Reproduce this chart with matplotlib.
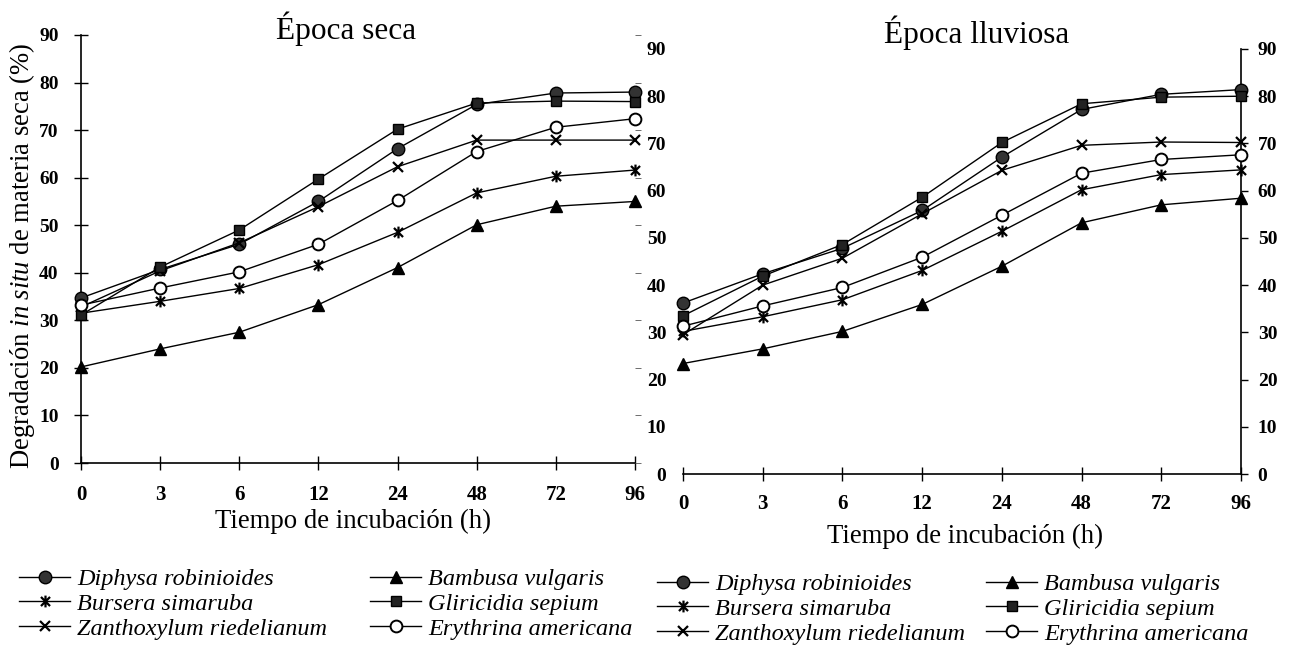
import matplotlib
matplotlib.use("Agg")
import matplotlib.pyplot as plt
from matplotlib.path import Path
from matplotlib.lines import Line2D

plt.rcParams["font.family"] = "Liberation Serif"
plt.rcParams["mathtext.fontset"] = "custom"
plt.rcParams["mathtext.rm"] = "Liberation Serif"
plt.rcParams["mathtext.it"] = "Liberation Serif:italic"

# tiempos de incubacion (h), espaciados como categorias
horas = ["0", "3", "6", "12", "24", "48", "72", "96"]

# epoca seca
seca_diphysa = [34.7, 40.7, 46.0, 55.0, 66.1, 75.4, 77.8, 78.0]
seca_bursera = [31.5, 34.0, 36.7, 41.7, 48.5, 56.8, 60.3, 61.6]
seca_zanthoxylum = [32.8, 40.4, 46.3, 53.9, 62.3, 67.9, 67.9, 67.9]
seca_bambusa = [20.2, 24.0, 27.5, 33.3, 41.1, 50.1, 54.0, 55.0]
seca_gliricidia = [31.1, 41.2, 49.0, 59.7, 70.2, 75.7, 76.1, 76.0]
seca_erythrina = [33.2, 36.8, 40.2, 46.0, 55.2, 65.5, 70.6, 72.4]

# epoca lluviosa
lluv_diphysa = [36.2, 42.4, 47.8, 55.8, 67.1, 77.2, 80.4, 81.4]
lluv_bursera = [30.2, 33.3, 36.9, 43.1, 51.4, 60.2, 63.4, 64.4]
lluv_zanthoxylum = [29.5, 40.0, 45.7, 55.1, 64.3, 69.6, 70.3, 70.2]
lluv_bambusa = [23.4, 26.5, 30.2, 35.9, 44.0, 53.2, 57.0, 58.4]
lluv_gliricidia = [33.5, 41.9, 48.6, 58.6, 70.2, 78.4, 79.8, 80.0]
lluv_erythrina = [31.3, 35.6, 39.5, 45.9, 54.8, 63.7, 66.6, 67.6]

especies = ["Diphysa robinioides", "Bursera simaruba", "Zanthoxylum riedelianum",
            "Bambusa vulgaris", "Gliricidia sepium", "Erythrina americana"]

# asterisco tipo Excel: una X con barra vertical
estrella = Path([(-1, -1), (1, 1), (-1, 1), (1, -1), (0, -1.3), (0, 1.3)],
                [Path.MOVETO, Path.LINETO, Path.MOVETO, Path.LINETO, Path.MOVETO, Path.LINETO])

estilos = [
    dict(marker="o", ms=9, mfc="#333333", mec="black"),
    dict(marker=estrella, ms=8.5, mfc="black", mec="black", mew=1.6),
    dict(marker="x", ms=7.5, mec="black", mew=1.6),
    dict(marker="^", ms=9, mfc="black", mec="black"),
    dict(marker="s", ms=7.5, mfc="#222222", mec="black"),
    dict(marker="o", ms=8.5, mfc="white", mec="black", mew=1.4),
]

xtick_font = dict(family="Liberation Serif", size=15, weight="bold")
ytick_font = dict(family="Liberation Serif", size=14, weight="bold")

fig = plt.figure(figsize=(12.93, 6.54), dpi=100)
ax1 = fig.add_axes([0.0626, 0.2920, 0.4285, 0.6545])
ax2 = fig.add_axes([0.5282, 0.2752, 0.4316, 0.6499])

x = list(range(len(horas)))


def dibujar(ax, series):
    for ys, st in zip(series, estilos):
        ax.plot(x, ys, color="black", linewidth=1.0, clip_on=False, zorder=3, **st)
    ax.set_xlim(0, 7)
    ax.set_ylim(0, 90)
    ax.set_xticks(x)
    ax.set_xticklabels(horas, fontdict=xtick_font)
    ax.set_yticks(range(0, 91, 10))
    ax.set_yticklabels([str(v) for v in range(0, 91, 10)], fontdict=ytick_font)
    ax.spines["top"].set_visible(False)


dibujar(ax1, [seca_diphysa, seca_bursera, seca_zanthoxylum,
              seca_bambusa, seca_gliricidia, seca_erythrina])
dibujar(ax2, [lluv_diphysa, lluv_bursera, lluv_zanthoxylum,
              lluv_bambusa, lluv_gliricidia, lluv_erythrina])

# panel izquierdo
ax1.spines["right"].set_visible(False)
ax1.tick_params(axis="x", direction="inout", length=10, width=1, pad=10.5)
ax1.tick_params(axis="y", direction="inout", length=10, width=1, pad=11)
ax1b = ax1.twinx()
ax1b.set_ylim(0, 90)
ax1b.set_yticks(range(0, 91, 10))
ax1b.tick_params(axis="y", direction="out", length=4, width=0.6, labelright=False, colors="#555555")
for s in ax1b.spines.values():
    s.set_visible(False)

# panel derecho
ax2.spines["left"].set_visible(False)
ax2.tick_params(axis="x", direction="inout", length=10, width=1, pad=9.5)
ax2.tick_params(axis="y", direction="out", length=5, width=1, pad=7,
                left=False, right=True, labelleft=True, labelright=True)

for ax in (ax1, ax2):
    for s in ax.spines.values():
        s.set_linewidth(1.2)

fig.text(346 / 1293, 1 - 39 / 654, "Época seca", fontsize=22.5, ha="center", va="baseline")
fig.text(977 / 1293, 1 - 43 / 654, "Época lluviosa", fontsize=22.5, ha="center", va="baseline")
fig.text(353 / 1293, 1 - 528 / 654, "Tiempo de incubación (h)", fontsize=19.3, ha="center", va="baseline")
fig.text(965 / 1293, 1 - 543 / 654, "Tiempo de incubación (h)", fontsize=19.3, ha="center", va="baseline")
fig.text(22 / 1293, 1 - 256 / 654, r"Degradación $\mathit{in\ situ}$ de materia seca (%)",
         fontsize=19.2, rotation=90, ha="center", va="center")

# leyendas: una columna por grupo de tres especies
manijas = [Line2D([], [], color="black", linewidth=1.0, **st) for st in estilos]
columnas = [(19, 568, 0, 3), (370, 568, 3, 6), (657, 573, 0, 3), (986, 573, 3, 6)]
for px, py, a, b in columnas:
    fig.legend(manijas[a:b], especies[a:b], loc="upper left",
               bbox_to_anchor=(px / 1293, 1 - py / 654), frameon=False,
               borderpad=0, borderaxespad=0, numpoints=1, handlelength=2.1,
               handletextpad=0.3, labelspacing=0.12,
               prop=dict(family="Liberation Serif", style="italic", size=17.5))

fig.savefig("out.png", dpi=100)
